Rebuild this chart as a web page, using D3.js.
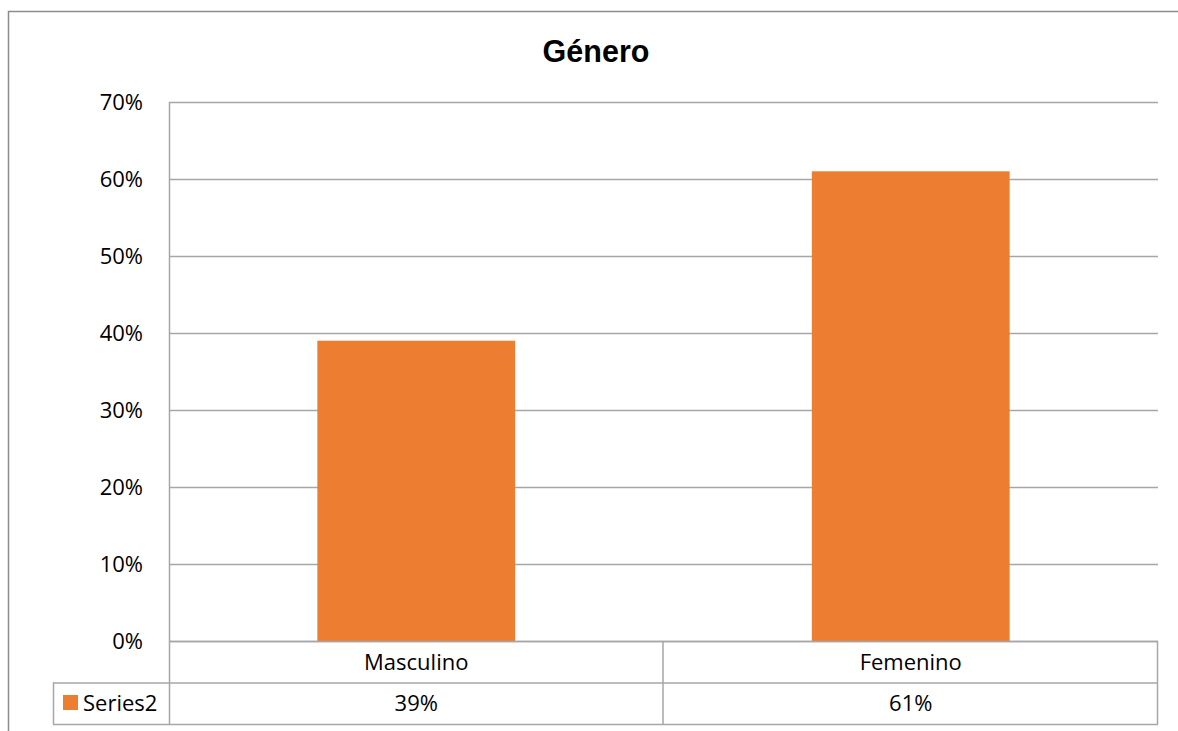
<!DOCTYPE html>
<html>
<head>
<meta charset="utf-8">
<script src="https://cdn.jsdelivr.net/npm/d3@7"></script>
<style>
  html, body { margin: 0; padding: 0; background: #fff; }
  svg { display: block; }
</style>
</head>
<body>
<svg id="chart" width="1178" height="731"></svg>
<script>
// Chart data
const categories = ["Masculino", "Femenino"];
const seriesName = "Series2";
const values = [0.39, 0.61];
const yTicks = [0, 0.1, 0.2, 0.3, 0.4, 0.5, 0.6, 0.7];
const title = "Género";

const svg = d3.select("#chart");
const W = 1178, H = 731;

const plot = { left: 169, right: 1158, top: 102, bottom: 641 };
const rowH = 41.5;
const legendLeft = 53;
const gridColor = "#a6a6a6";
const borderColor = "#8c8c8c";
const barColor = "#ed7d31";
const labelFont = "'Open Sans', Lato, sans-serif";
const labelSize = 22;

// Outer chart frame
svg.append("rect")
  .attr("x", 8.5).attr("y", 11.5)
  .attr("width", W + 20).attr("height", H + 20)
  .attr("fill", "#fff").attr("stroke", borderColor).attr("stroke-width", 1.5);

// Title
svg.append("text")
  .attr("x", 596).attr("y", 62)
  .attr("text-anchor", "middle")
  .attr("font-family", "'Liberation Sans', Arial, sans-serif")
  .attr("font-weight", "bold")
  .attr("font-size", 30.5)
  .attr("fill", "#000")
  .text(title);

// Scales
const x = d3.scaleBand()
  .domain(categories)
  .range([plot.left, plot.right])
  .paddingInner(0.6)
  .paddingOuter(0.3);

const xCat = d3.scaleBand()
  .domain(categories)
  .range([plot.left, plot.right]);

const y = d3.scaleLinear()
  .domain([0, 0.7])
  .range([plot.bottom, plot.top]);

// Gridlines
svg.append("g")
  .selectAll("line")
  .data(yTicks)
  .join("line")
  .attr("x1", plot.left).attr("x2", plot.right)
  .attr("y1", d => Math.round(y(d)) + 0.5).attr("y2", d => Math.round(y(d)) + 0.5)
  .attr("stroke", gridColor).attr("stroke-width", 1.5);

// Value axis
const yAxis = d3.axisLeft(y)
  .tickValues(yTicks)
  .tickFormat(d3.format(".0%"))
  .tickSize(0)
  .tickPadding(26);

const yG = svg.append("g")
  .attr("transform", `translate(${plot.left},0)`)
  .call(yAxis);
yG.select(".domain")
  .attr("stroke", gridColor).attr("stroke-width", 1.5)
  .attr("d", `M0.5,${plot.top}V${plot.bottom + 2 * rowH}`);
yG.selectAll("text")
  .attr("font-family", labelFont)
  .attr("font-size", labelSize)
  .attr("fill", "#000")
  .attr("dy", "0.36em");

// Bars
svg.append("g")
  .selectAll("rect")
  .data(values)
  .join("rect")
  .attr("x", (d, i) => x(categories[i]))
  .attr("width", x.bandwidth())
  .attr("y", d => y(d))
  .attr("height", d => y(0) - y(d))
  .attr("fill", barColor);

// Data table
const table = svg.append("g");
const r1 = plot.bottom, r2 = plot.bottom + rowH, r3 = plot.bottom + 2 * rowH;

// horizontal rules
[[plot.left, r1], [legendLeft, r2], [legendLeft, r3]].forEach(([x0, yy]) => {
  table.append("line")
    .attr("x1", x0).attr("x2", plot.right)
    .attr("y1", yy + 0.5).attr("y2", yy + 0.5)
    .attr("stroke", gridColor).attr("stroke-width", 1.5);
});
// vertical rules at category boundaries
const bounds = categories.map(c => xCat(c)).concat([plot.right]).slice(1);
bounds.forEach(bx => {
  table.append("line")
    .attr("x1", bx - 0.5).attr("x2", bx - 0.5)
    .attr("y1", r1).attr("y2", r3)
    .attr("stroke", gridColor).attr("stroke-width", 1.5);
});
table.append("line")
  .attr("x1", legendLeft + 0.5).attr("x2", legendLeft + 0.5)
  .attr("y1", r2).attr("y2", r3)
  .attr("stroke", gridColor).attr("stroke-width", 1.5);

// category labels
table.selectAll("text.cat")
  .data(categories)
  .join("text")
  .attr("class", "cat")
  .attr("x", d => xCat(d) + xCat.bandwidth() / 2)
  .attr("y", (r1 + r2) / 2)
  .attr("dy", "0.36em")
  .attr("text-anchor", "middle")
  .attr("font-family", labelFont)
  .attr("font-size", labelSize)
  .text(d => d);

// value labels
table.selectAll("text.val")
  .data(values)
  .join("text")
  .attr("class", "val")
  .attr("x", (d, i) => xCat(categories[i]) + xCat.bandwidth() / 2)
  .attr("y", (r2 + r3) / 2)
  .attr("dy", "0.36em")
  .attr("text-anchor", "middle")
  .attr("font-family", labelFont)
  .attr("font-size", labelSize)
  .text(d => d3.format(".0%")(d));

// legend key
table.append("rect")
  .attr("x", 63).attr("y", 695)
  .attr("width", 15).attr("height", 15)
  .attr("fill", barColor);
table.append("text")
  .attr("x", 83).attr("y", (r2 + r3) / 2)
  .attr("dy", "0.36em")
  .attr("font-family", labelFont)
  .attr("font-size", labelSize)
  .text(seriesName);
</script>
</body>
</html>
